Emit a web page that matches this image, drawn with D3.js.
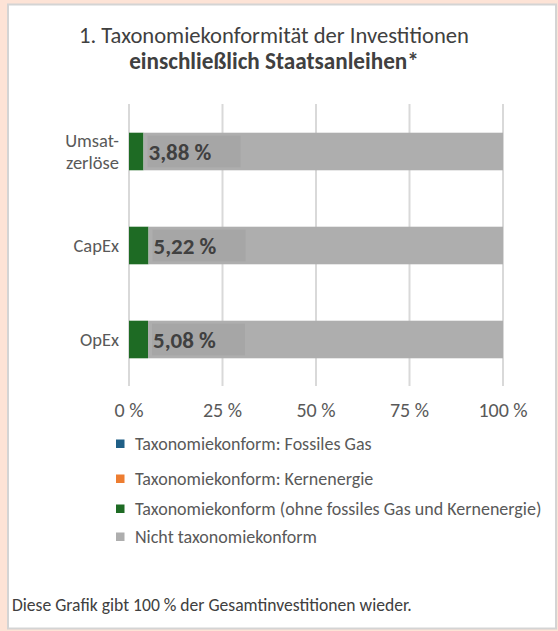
<!DOCTYPE html>
<html><head><meta charset="utf-8">
<script src="https://cdn.jsdelivr.net/npm/d3@7"></script>
<style>
html,body{margin:0;padding:0;background:#fde3d6;}
svg{display:block;}
</style></head>
<body>
<svg id="c" width="558" height="631"></svg>
<script>
const categories = [["Umsat-","zerlöse"],["CapEx"],["OpEx"]];
const categoryKeys = ["Umsatzerlöse","CapEx","OpEx"];
const fossilGas = [0, 0, 0];
const nuclear = [0, 0, 0];
const alignedOther = [3.88, 5.22, 5.08];
const notAligned = [96.12, 94.78, 94.92];
const labels = ["3,88 %","5,22 %","5,08 %"];
const ticks = [0, 25, 50, 75, 100];
const tickLabels = ["0 %","25 %","50 %","75 %","100 %"];
const seriesNames = ["Taxonomiekonform: Fossiles Gas","Taxonomiekonform: Kernenergie","Taxonomiekonform (ohne fossiles Gas und Kernenergie)","Nicht taxonomiekonform"];
const seriesColors = ["#1f5f86","#ed7d31","#1e6b24","#aeaeae"];
const title1 = "1. Taxonomiekonformität der Investitionen";
const title2 = "einschließlich Staatsanleihen*";
const footnote = "Diese Grafik gibt 100 % der Gesamtinvestitionen wieder.";

const FONT = "Carlito, Calibri, Lato, 'Open Sans', sans-serif";
const svg = d3.select("#c").style("font-family", FONT);

// panel
svg.append("rect").attr("x",8).attr("y",4.5).attr("width",548).attr("height",624)
  .attr("fill","#fff").attr("stroke","#d4d4d4").attr("stroke-width",2);

// title
svg.append("text").attr("x",274).attr("y",43).attr("text-anchor","middle")
  .attr("fill","#404040").attr("font-size",22.6).text(title1);
svg.append("text").attr("x",274).attr("y",69).attr("text-anchor","middle")
  .attr("fill","#404040").attr("font-size",23.2).attr("font-weight","bold").text(title2);

const x = d3.scaleLinear().domain([0,100]).range([129,503]);
const y = d3.scaleBand().domain(categoryKeys).range([104.5,386.5]).paddingInner(0.6).paddingOuter(0.3);

// gridlines
svg.append("g").selectAll("line").data(ticks).join("line")
  .attr("x1",d=>x(d)).attr("x2",d=>x(d)).attr("y1",104).attr("y2",386)
  .attr("stroke","#d9d9d9").attr("stroke-width",2);

// stacked bars
const rows = categoryKeys.map((k,i)=>({key:k, fossil:fossilGas[i], nuclear:nuclear[i], aligned:alignedOther[i], not:notAligned[i]}));
const stack = d3.stack().keys(["fossil","nuclear","aligned","not"])(rows);
const g = svg.append("g");
stack.forEach((s,si)=>{
  g.selectAll(null).data(s).join("rect")
    .attr("x",d=>x(d[0])).attr("width",d=>Math.max(0,x(d[1])-x(d[0])))
    .attr("y",d=>y(d.data.key)).attr("height",y.bandwidth())
    .attr("fill",seriesColors[si]);
});

// data labels
const lg = svg.append("g");
rows.forEach((r,i)=>{
  const x0 = x(r.fossil + r.nuclear + r.aligned) + 4;
  lg.append("rect").attr("x",x0).attr("y",y(r.key)+3).attr("width",93).attr("height",y.bandwidth()-6)
    .attr("fill","#a6a6a6");
  lg.append("text").attr("x",x0+1).attr("y",y(r.key)+y.bandwidth()/2+8)
    .attr("fill","#404040").attr("font-size",23).attr("font-weight","bold").text(labels[i]);
});

// category labels
const cg = svg.append("g");
categoryKeys.forEach((k,i)=>{
  const lines = categories[i];
  const cy = y(k)+y.bandwidth()/2;
  const lh = 22;
  lines.forEach((t,j)=>{
    cg.append("text").attr("x",119).attr("y",cy + (j-(lines.length-1)/2)*lh + 6)
      .attr("text-anchor","end").attr("fill","#595959").attr("font-size",18.5).text(t);
  });
});

// x tick labels
svg.append("g").selectAll("text").data(ticks).join("text")
  .attr("x",d=>x(d)).attr("y",417).attr("text-anchor","middle")
  .attr("fill","#595959").attr("font-size",20).text((d,i)=>tickLabels[i]);

// legend
const legY = [444, 479, 509, 537];
const leg = svg.append("g");
seriesNames.forEach((n,i)=>{
  leg.append("rect").attr("x",116).attr("y",legY[i]-4.5).attr("width",8.5).attr("height",8.5).attr("fill",seriesColors[i]);
  leg.append("text").attr("x",135).attr("y",legY[i]+6).attr("fill","#595959").attr("font-size",18).text(n);
});

// footnote
svg.append("text").attr("x",12).attr("y",611).attr("fill","#404040").attr("font-size",17.6).text(footnote);
</script>
</body></html>
